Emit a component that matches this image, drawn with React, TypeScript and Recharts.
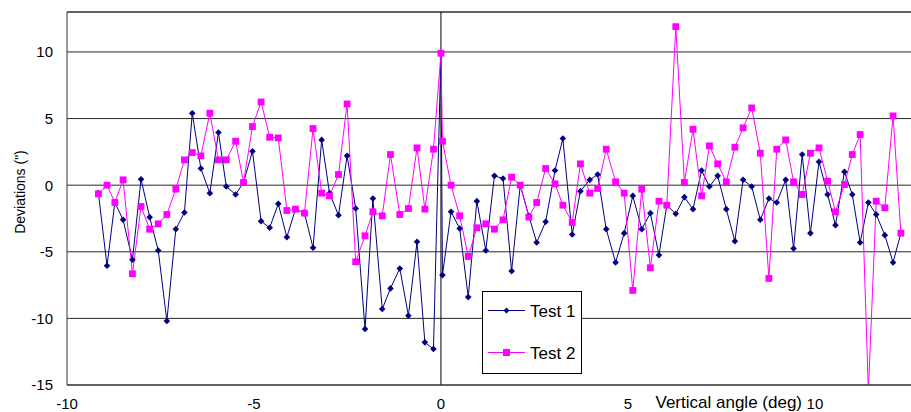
import { CartesianGrid, Label, Legend, Line, LineChart, ReferenceLine, XAxis, YAxis } from 'recharts';

// vertical angle of each reading (deg)
const angles = [
  -9.16, -8.93, -8.72, -8.5, -8.25, -8.02, -7.79, -7.56, -7.33, -7.09,
  -6.86, -6.65, -6.42, -6.18, -5.95, -5.74, -5.49, -5.28, -5.04, -4.81,
  -4.58, -4.35, -4.12, -3.89, -3.65, -3.42, -3.19, -2.98, -2.74, -2.51,
  -2.28, -2.03, -1.82, -1.57, -1.35, -1.1, -0.87, -0.64, -0.43, -0.2,
  0.0, 0.04, 0.27, 0.5, 0.73, 0.96, 1.2, 1.43, 1.66, 1.89,
  2.12, 2.35, 2.56, 2.8, 3.05, 3.26, 3.51, 3.73, 3.98, 4.19,
  4.42, 4.67, 4.9, 5.13, 5.37, 5.6, 5.83, 6.04, 6.28, 6.51,
  6.74, 6.97, 7.18, 7.4, 7.63, 7.86, 8.08, 8.31, 8.54, 8.77,
  8.98, 9.22, 9.43, 9.66, 9.88, 10.11, 10.34, 10.55, 10.79, 11.0,
  11.21, 11.43, 11.64, 11.87, 12.09, 12.3,
];

const test1 = [
  -0.6, -6.05, -1.3, -2.6, -5.6, 0.45, -2.4, -4.9, -10.2, -3.3,
  -2.05, 5.4, 1.25, -0.6, 3.95, -0.1, -0.7, 0.2, 2.55, -2.7,
  -3.2, -1.4, -3.9, -1.8, -2.1, -4.7, 3.4, -0.6, -2.25, 2.2,
  -1.75, -10.8, -1.0, -9.3, -7.75, -6.25, -9.8, -4.25, -11.8, -12.3,
  9.9, -6.75, -2.0, -3.25, -8.4, -1.2, -4.9, 0.7, 0.5, -6.45,
  0.0, -2.3, -4.3, -2.75, 1.1, 3.5, -3.7, -0.45, 0.4, 0.8,
  -3.3, -5.8, -3.6, -0.8, -3.3, -2.1, -5.25, -1.5, -2.15, -0.9,
  -1.8, 1.1, -0.1, 0.7, -1.8, -4.2, 0.4, -0.1, -2.6, -1.0,
  -1.3, 0.4, -4.75, 2.3, -3.6, 1.75, -0.7, -3.0, 1.0, -0.7,
  -4.3, -1.3, -2.2, -3.75, -5.8, -3.6,
];

const test2 = [
  -0.65, 0.0, -1.3, 0.4, -6.65, -1.6, -3.3, -2.9, -2.2, -0.3,
  1.9, 2.45, 2.2, 5.4, 1.9, 1.9, 3.3, 0.2, 4.4, 6.25,
  3.6, 3.55, -1.9, -1.8, -2.1, 4.25, -0.6, -0.8, 0.8, 6.1,
  -5.75, -3.8, -2.0, -2.3, 2.3, -2.2, -1.75, 2.8, -1.8, 2.7,
  9.9, 3.3, 0.0, -2.3, -5.35, -3.2, -2.9, -3.3, -2.6, 0.6,
  0.0, -2.4, -1.3, 1.25, 0.1, -1.5, -2.8, 1.6, -0.6, -0.25,
  2.7, 0.25, -0.6, -7.9, -0.3, -6.2, -1.2, -1.5, 11.9, 0.2,
  4.2, -0.8, 2.95, 1.6, 0.25, 2.85, 4.3, 5.8, 2.4, -7.0,
  2.7, 3.4, 0.25, -0.7, 2.4, 2.8, 0.3, -2.0, 0.05, 2.3,
  3.8, -15.5, -1.2, -1.7, 5.2, -3.6,
];

const xTicks = [-10, -5, 0, 5, 10];
const yTicks = [-15, -10, -5, 0, 5, 10];

const data = angles.map((x, i) => ({ x, test1: test1[i], test2: test2[i] }));

const NAVY = '#000080';
const PINK = '#ff00ff';
const FONT = 'Arial, "Liberation Sans", sans-serif';

function Diamond(props: any) {
  const { cx, cy, index } = props;
  if (cx == null || cy == null) return null;
  const r = 3.3;
  return (
    <polygon
      key={`d${index}`}
      points={`${cx},${cy - r} ${cx + r},${cy} ${cx},${cy + r} ${cx - r},${cy}`}
      fill={NAVY}
    />
  );
}

function Square(props: any) {
  const { cx, cy, index } = props;
  if (cx == null || cy == null) return null;
  return <rect key={`s${index}`} x={cx - 3.4} y={cy - 3.4} width={6.8} height={6.8} fill={PINK} />;
}

function LegendBox() {
  return (
    <svg width={100} height={83} style={{ display: 'block' }}>
      <rect x={0.5} y={0.5} width={99} height={82} fill="#fff" stroke="#000" />
      <line x1={6} x2={43} y1={19.5} y2={19.5} stroke={NAVY} />
      <polygon points="24.5,16.5 27.5,19.5 24.5,22.5 21.5,19.5" fill={NAVY} />
      <text x={48} y={25.5} fontSize={17} fontFamily={FONT} fill="#000">
        Test 1
      </text>
      <line x1={6} x2={43} y1={61.5} y2={61.5} stroke={PINK} />
      <rect x={21} y={58} width={7} height={7} fill={PINK} />
      <text x={48} y={67.5} fontSize={17} fontFamily={FONT} fill="#000">
        Test 2
      </text>
    </svg>
  );
}

export default function App() {
  return (
    <div style={{ position: 'absolute', left: 0, top: 0, background: '#fff' }}>
      <LineChart width={911} height={412} data={data} margin={{ top: 12, right: 0, bottom: 0, left: 0 }}>
        <CartesianGrid vertical={false} stroke="#000" strokeOpacity={0.85} />
        <XAxis
          type="number"
          dataKey="x"
          domain={[-10, 12.57]}
          ticks={xTicks}
          allowDataOverflow
          height={27}
          tickLine={false}
          axisLine={{ stroke: '#333' }}
          tickMargin={7}
          tick={{ fill: '#000', fontSize: 15, fontFamily: FONT }}
          interval={0}
        >
          <Label
            content={(p: any) => (
              <text
                x={802}
                y={(p.viewBox?.y ?? 385) + 23}
                textAnchor="end"
                fontSize={17}
                fontFamily={FONT}
                fill="#000"
              >
                Vertical angle (deg)
              </text>
            )}
          />
        </XAxis>
        <YAxis
          type="number"
          domain={[-15, 13]}
          ticks={yTicks}
          allowDataOverflow
          width={67}
          tickLine={false}
          axisLine={{ stroke: '#333' }}
          tickMargin={8}
          tick={{ fill: '#000', fontSize: 15, fontFamily: FONT }}
          interval={0}
        >
          <Label
            content={() => (
              <text
                x={20}
                y={192}
                transform="rotate(-90, 20, 192)"
                textAnchor="middle"
                dy="0.35em"
                fontSize={14}
                fontFamily={FONT}
                fill="#000"
              >
                Deviations (")
              </text>
            )}
          />
        </YAxis>
        <ReferenceLine y={13} stroke="#333" />
        <ReferenceLine x={0} stroke="#000" />
        <Line
          type="linear"
          dataKey="test1"
          name="Test 1"
          stroke={NAVY}
          strokeWidth={1}
          dot={Diamond}
          activeDot={false}
          isAnimationActive={false}
        />
        <Line
          type="linear"
          dataKey="test2"
          name="Test 2"
          stroke={PINK}
          strokeWidth={1}
          dot={Square}
          activeDot={false}
          isAnimationActive={false}
        />
        <Legend
          layout="horizontal"
          verticalAlign="middle"
          align="center"
          wrapperStyle={{ left: 482, top: 291, width: 100, height: 83 }}
          content={LegendBox}
        />
      </LineChart>
    </div>
  );
}
